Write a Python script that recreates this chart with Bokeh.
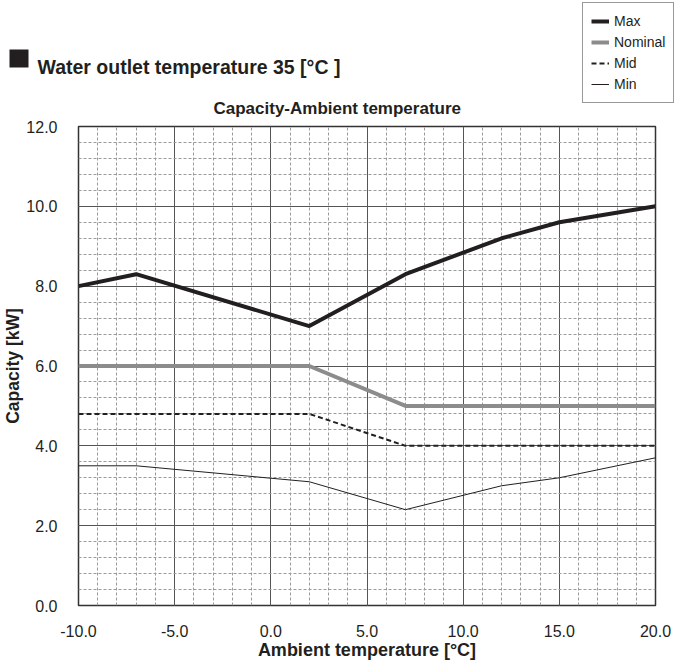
from bokeh.plotting import figure
from bokeh.layouts import column
from bokeh.models import (FixedTicker, NumeralTickFormatter, Legend, LegendItem, Range1d)
from bokeh.core.properties import value
from bokeh.embed import file_html
from bokeh.resources import INLINE

# ---------------- data ----------------
ambient = [-10, -7, 2, 7, 12, 15, 20]
cap_max = [8.0, 8.3, 7.0, 8.3, 9.2, 9.6, 10.0]
nominal_x = [-10, 2, 7, 20]
cap_nominal = [6.0, 6.0, 5.0, 5.0]
mid_x = [-10, 2, 7, 20]
cap_mid = [4.8, 4.8, 4.0, 4.0]
min_x = [-10, -7, 2, 7, 12, 15, 20]
cap_min = [3.5, 3.5, 3.1, 2.4, 3.0, 3.2, 3.7]

series_names = ["Max", "Nominal", "Mid", "Min"]
x_ticks = [-10, -5, 0, 5, 10, 15, 20]
y_ticks = [0, 2, 4, 6, 8, 10, 12]
x_minor = list(range(-10, 21))
y_minor = [round(i * 0.4, 1) for i in range(31)]

title_text = "Water outlet temperature 35 [°C ]"
subtitle_text = "Capacity-Ambient temperature"

FONT = "Liberation Sans"
INK = "#231f20"
W = 674
TOP_H = 117
BOT_H = 546
NAN = float("nan")

styles = {"Max": (INK, 4, "solid"), "Nominal": ("#8c8c8c", 4, "solid"),
          "Mid": (INK, 2, "5 3"), "Min": (INK, 1, "solid")}

# ---------------- header (title, subtitle, legend) ----------------
h = figure(width=W, height=TOP_H, output_backend="svg", toolbar_location=None,
           x_range=Range1d(0, W), y_range=Range1d(TOP_H, 0),
           x_axis_location=None, y_axis_location=None,
           min_border=0, min_border_left=0, min_border_right=0,
           min_border_top=0, min_border_bottom=0)
h.grid.visible = False
h.outline_line_color = None
h.background_fill_color = "white"
h.border_fill_color = "white"
try:
    h.frame_align = False
except Exception:
    pass

h.quad(left=[9], right=[28], top=[49], bottom=[67], fill_color=INK, line_color=None)
h.text(x=[37], y=[66], text=[title_text], text_font=value(FONT), text_font_size="19.5px",
       text_font_style="bold", text_color=INK, text_baseline="alphabetic", text_align="left")
h.text(x=[213], y=[108], text=[subtitle_text], text_font=value(FONT), text_font_size="17px",
       text_font_style="bold", text_color=INK, text_baseline="alphabetic", text_align="left")

items = []
for name in series_names:
    col, lw, dash = styles[name]
    r = h.line([NAN, NAN], [NAN, NAN], line_color=col, line_width=lw, line_dash=dash)
    items.append(LegendItem(label=name, renderers=[r], index=0))

legend = Legend(items=items, location=(582, TOP_H - 103), label_text_font=FONT,
                label_text_font_size="14px", label_text_color=INK,
                glyph_width=18, glyph_height=20, label_height=20,
                spacing=1, padding=8, margin=0, label_standoff=5,
                border_line_color="#333333", border_line_width=1,
                background_fill_color="white", background_fill_alpha=1)
h.add_layout(legend, "center")

# ---------------- main chart ----------------
p = figure(width=W, height=BOT_H, output_backend="svg", toolbar_location=None,
           x_range=Range1d(-10, 20), y_range=Range1d(0, 12),
           min_border_left=77, min_border_right=W - 655, min_border_top=9,
           min_border_bottom=BOT_H - 9 - 479)
try:
    p.frame_align = False
except Exception:
    pass
p.background_fill_color = "white"
p.border_fill_color = "white"
p.outline_line_color = "#333333"
p.outline_line_width = 1.5

p.xaxis.ticker = FixedTicker(ticks=x_ticks, minor_ticks=x_minor)
p.yaxis.ticker = FixedTicker(ticks=y_ticks, minor_ticks=y_minor)
for ax in (p.xaxis, p.yaxis):
    ax.formatter = NumeralTickFormatter(format="0.0")
    ax.axis_line_color = None
    ax.major_tick_line_color = None
    ax.minor_tick_line_color = None
    ax.major_label_text_font = FONT
    ax.major_label_text_font_size = "16px"
    ax.major_label_text_color = INK
    ax.axis_label_text_font = FONT
    ax.axis_label_text_font_style = "bold"
    ax.axis_label_text_color = INK
p.xaxis.axis_label_text_font_size = "18px"
p.yaxis.axis_label_text_font_size = "17.5px"
p.xaxis.axis_label = "Ambient temperature [°C]"
p.yaxis.axis_label = "Capacity [kW]"
p.xaxis.major_label_standoff = 13
p.yaxis.major_label_standoff = 15
p.xaxis.axis_label_standoff = 0
p.yaxis.axis_label_standoff = 0

for g in (p.xgrid, p.ygrid):
    g.grid_line_color = "#555555"
    g.grid_line_width = 1
    g.minor_grid_line_color = "#9a9a9a"
    g.minor_grid_line_dash = "3 2"
    g.minor_grid_line_width = 1

series = {"Max": (ambient, cap_max), "Nominal": (nominal_x, cap_nominal),
          "Mid": (mid_x, cap_mid), "Min": (min_x, cap_min)}
for name in series_names:
    xs, ys = series[name]
    col, lw, dash = styles[name]
    p.line(xs, ys, line_color=col, line_width=lw, line_dash=dash)

layout = column(h, p, spacing=0)
open("out.html", "w").write(file_html(layout, INLINE))
